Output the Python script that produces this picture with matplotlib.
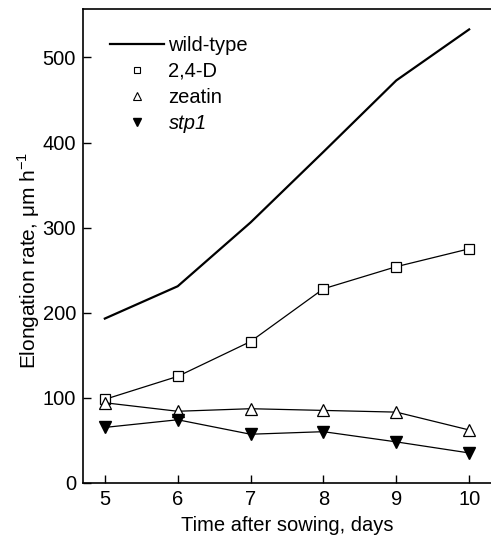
import matplotlib.pyplot as plt
from matplotlib.lines import Line2D

plt.rcParams["font.family"] = ["Liberation Sans", "DejaVu Sans"]

days = [5, 6, 7, 8, 9, 10]
wild_type = [193, 231, 306, 389, 473, 533]
d24 = [98, 125, 166, 228, 254, 275]
zeatin = [94, 84, 87, 85, 83, 62]
stp1 = [65, 74, 57, 60, 48, 35]

fig = plt.figure(figsize=(4.91, 5.42), dpi=100)
ax = fig.add_axes([0.169, 0.1094, 0.831, 0.874])

ax.plot(days, wild_type, "-", color="black", linewidth=1.6)
ax.plot(days, d24, "-", color="black", linewidth=0.9, marker="s",
        markersize=7, markerfacecolor="white", markeredgewidth=0.9)
ax.plot(days, zeatin, "-", color="black", linewidth=0.9, marker="^",
        markersize=9, markerfacecolor="white", markeredgewidth=0.9)
ax.plot(days, stp1, "-", color="black", linewidth=0.9, marker="v",
        markersize=9, markerfacecolor="black")

ax.set_xlim(4.7, 10.3)
ax.set_ylim(0, 557)
ax.set_xticks(days)
ax.set_yticks([0, 100, 200, 300, 400, 500])
ax.tick_params(direction="in", length=6, width=1, labelsize=14.5, pad=5)
ax.spines["right"].set_visible(False)
for s in ["left", "bottom", "top"]:
    ax.spines[s].set_linewidth(1.2)

ax.set_xlabel("Time after sowing, days", fontsize=14.5, labelpad=5)
ax.set_ylabel("Elongation rate, \u03bcm h$^{\\mathregular{-1}}$", fontsize=15)
ax.yaxis.set_label_coords(-0.10, 0.47)

handles = [
    Line2D([], [], color="black", linewidth=1.6),
    Line2D([], [], linestyle="none", marker="s", markersize=5,
           markerfacecolor="white", markeredgecolor="black", markeredgewidth=0.8),
    Line2D([], [], linestyle="none", marker="^", markersize=6,
           markerfacecolor="white", markeredgecolor="black", markeredgewidth=0.8),
    Line2D([], [], linestyle="none", marker="v", markersize=6,
           markerfacecolor="black", markeredgecolor="black"),
]
labels = ["wild-type", "2,4-D", "zeatin", "stp1"]
leg = ax.legend(handles, labels, loc="upper left", bbox_to_anchor=(0.022, 0.982),
                frameon=False, fontsize=14.5, handlelength=2.7, handletextpad=0.2,
                labelspacing=0.36)
leg.get_texts()[3].set_style("italic")

fig.savefig("out.png", dpi=100)
